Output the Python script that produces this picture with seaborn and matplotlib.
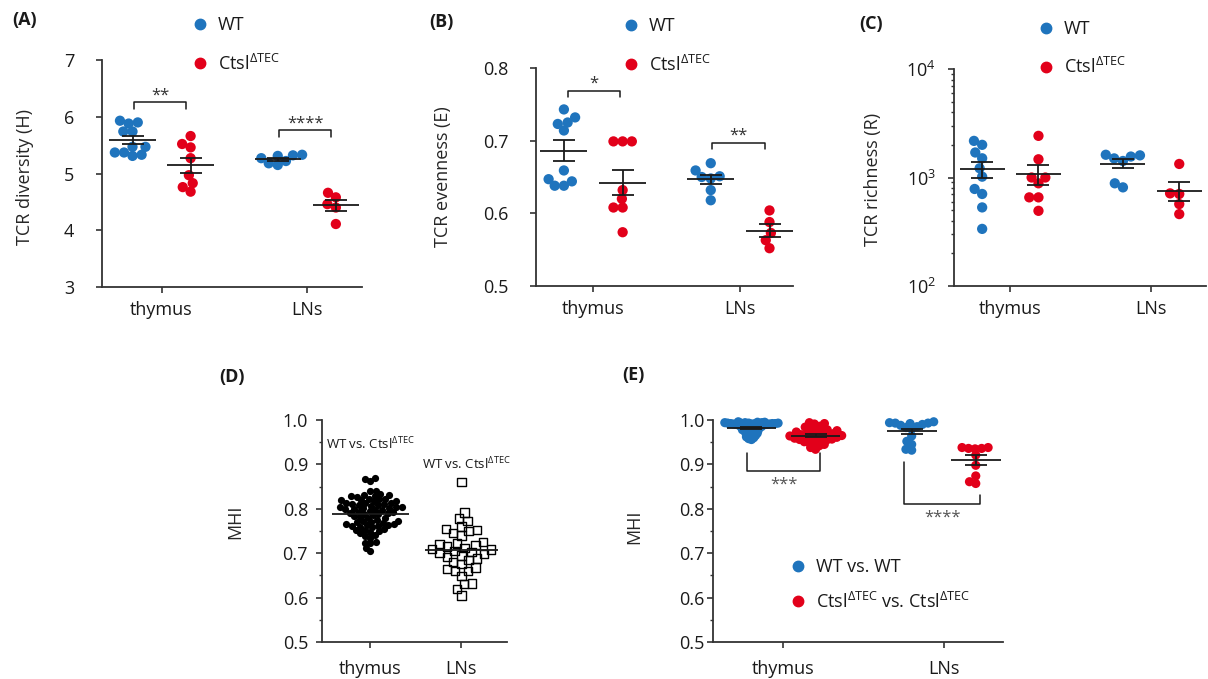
import numpy as np
import pandas as pd
import matplotlib
matplotlib.use("Agg")
import matplotlib.pyplot as plt
from matplotlib.lines import Line2D
from matplotlib.ticker import LogLocator, MultipleLocator, NullFormatter, FormatStrFormatter
import seaborn as sns

# ---------------- data ----------------
tissues = ["thymus", "LNs"]
genotypes = ["WT", "Ctsl"]

# (A) TCR diversity (H)
A_thy_wt = [5.90, 5.88, 5.93, 5.74, 5.74, 5.47, 5.47, 5.37, 5.33, 5.31, 5.37]
A_thy_ko = [5.66, 5.52, 5.46, 5.27, 4.97, 4.83, 4.76, 4.68]
A_ln_wt = [5.33, 5.31, 5.27, 5.22, 5.18, 5.15, 5.32]
A_ln_ko = [4.66, 4.58, 4.46, 4.40, 4.11]

# (B) TCR evenness (E)
B_thy_wt = [0.743, 0.732, 0.723, 0.725, 0.714, 0.659, 0.644, 0.638, 0.638, 0.647]
B_thy_ko = [0.699, 0.699, 0.699, 0.632, 0.620, 0.608, 0.608, 0.574]
B_ln_wt = [0.659, 0.669, 0.651, 0.648, 0.650, 0.632, 0.618]
B_ln_ko = [0.604, 0.588, 0.573, 0.563, 0.552]

# (C) TCR richness (R)
C_thy_wt = [2175, 2000, 1700, 1503, 1217, 1018, 784, 705, 530, 336]
C_thy_ko = [2420, 1472, 1000, 1000, 884, 656, 656, 493]
C_ln_wt = [1560, 1600, 1500, 1420, 1620, 811, 884]
C_ln_ko = [1333, 714, 705, 569, 460]

# (D) MHI WT vs Ctsl
D_thy = [0.870, 0.866, 0.862, 0.841, 0.839, 0.832, 0.830, 0.829, 0.828, 0.833,
         0.827, 0.823, 0.821, 0.820, 0.819, 0.818, 0.822, 0.817, 0.814, 0.812,
         0.811, 0.810, 0.809, 0.813, 0.808, 0.807, 0.805, 0.803, 0.802, 0.801,
         0.800, 0.799, 0.798, 0.804, 0.797, 0.795, 0.793, 0.792, 0.791, 0.790,
         0.789, 0.788, 0.785, 0.783, 0.781, 0.780, 0.779, 0.775, 0.773, 0.771,
         0.770, 0.768, 0.772, 0.766, 0.764, 0.763, 0.762, 0.761, 0.760, 0.765,
         0.759, 0.755, 0.752, 0.750, 0.748, 0.753, 0.745, 0.742, 0.738, 0.735,
         0.726, 0.724, 0.722, 0.711, 0.704]
D_ln = [0.861, 0.792, 0.778, 0.773, 0.760, 0.755, 0.750, 0.752, 0.745, 0.740,
        0.725, 0.722, 0.720, 0.718, 0.715, 0.712, 0.710, 0.708, 0.705, 0.702,
        0.700, 0.698, 0.695, 0.692, 0.688, 0.685, 0.680, 0.675, 0.668, 0.665,
        0.660, 0.660, 0.648, 0.632, 0.630, 0.620, 0.605]

# (E) MHI within genotype
E_thy_wt = [0.996, 0.995, 0.995, 0.994, 0.994, 0.994, 0.993, 0.993, 0.993, 0.993,
            0.992, 0.992, 0.992, 0.992, 0.991, 0.991, 0.991, 0.990, 0.990, 0.990,
            0.989, 0.989, 0.988, 0.988, 0.987, 0.986, 0.986, 0.985, 0.984, 0.984,
            0.983, 0.982, 0.981, 0.980, 0.979, 0.978, 0.977, 0.976, 0.975, 0.974,
            0.973, 0.972, 0.970, 0.969, 0.968, 0.966, 0.965, 0.963, 0.962, 0.960,
            0.958, 0.956]
E_thy_ko = [0.994, 0.992, 0.991, 0.986, 0.984, 0.982, 0.980, 0.978, 0.976, 0.975,
            0.973, 0.972, 0.970, 0.969, 0.968, 0.967, 0.966, 0.965, 0.964, 0.963,
            0.962, 0.961, 0.960, 0.959, 0.958, 0.957, 0.956, 0.955, 0.953, 0.951,
            0.949, 0.947, 0.945, 0.942, 0.938, 0.934]
E_ln_wt = [0.993, 0.994, 0.996, 0.993, 0.992, 0.990, 0.988, 0.985, 0.983, 0.980,
           0.964, 0.952, 0.945, 0.934, 0.932]
E_ln_ko = [0.938, 0.936, 0.935, 0.936, 0.938, 0.921, 0.898, 0.874, 0.857, 0.861]

sig_A = ["**", "****"]
sig_B = ["*", "**"]
sig_E = ["***", "****"]

KO = r"Ctsl$^{\mathrm{\Delta TEC}}$"
BLUE = "#1F74BD"
RED = "#E2001A"
INK = "#1a1a1a"
OFF = 0.2  # seaborn's dodge offset for two hue levels

# ---------------- style ----------------
sns.set_theme(style="ticks")
plt.rcParams["font.family"] = ["Open Sans", "DejaVu Sans"]
plt.rcParams["mathtext.fontset"] = "custom"
plt.rcParams["mathtext.rm"] = "Open Sans"
plt.rcParams["mathtext.it"] = "Open Sans:italic"
plt.rcParams["mathtext.bf"] = "Open Sans:bold"
plt.rcParams["text.color"] = INK

W, H = 1208, 679
fig = plt.figure(figsize=(W / 100, H / 100), dpi=100)


def px_axes(l, r, t, b):
    return fig.add_axes([l / W, 1 - b / H, (r - l) / W, (b - t) / H])


def long_df(groups):
    rows = [(t, g, v) for (t, g), vals in groups.items() for v in vals]
    return pd.DataFrame(rows, columns=["tissue", "geno", "value"])


grow = []


def swarm(ax, df, collide, target, **kw):
    n0 = len(ax.collections)
    sns.swarmplot(data=df, x="tissue", y="value", order=tissues, ax=ax,
                  size=collide, legend=False, warn_thresh=1.0, **kw)
    for c in ax.collections[n0:]:
        if len(c.get_offsets()) == 0:
            c.set_visible(False)
            continue
        c.set_clip_on(False)
        grow.append((c, target))


def mean_sem(ax, x, vals, half=0.16, cap=8, sem=True):
    v = np.asarray(vals, float)
    m = v.mean()
    ax.hlines(m, x - half, x + half, colors="k", lw=1.3, zorder=6)
    if sem:
        se = v.std(ddof=1) / np.sqrt(len(v))
        ax.errorbar([x], [m], yerr=[se], fmt="none", ecolor="k", elinewidth=1.3,
                    capsize=cap, capthick=1.3, zorder=6)


def style(ax, ypad, xpad, fs=13):
    sns.despine(ax=ax)
    for s in ["left", "bottom"]:
        ax.spines[s].set_color("#333333")
        ax.spines[s].set_linewidth(1.3)
    ax.tick_params(axis="both", which="major", length=4, width=1.2,
                   color="#333333", labelsize=fs, labelcolor=INK)
    ax.tick_params(axis="y", which="minor", length=2.5, width=1.0, color="#333333")
    ax.tick_params(axis="y", pad=ypad)
    ax.tick_params(axis="x", pad=xpad)
    ax.set_xlabel("")


def bracket_top(ax, x1, x2, ytop, yarm, text, ytext, fs=12):
    ax.plot([x1, x1, x2, x2], [yarm, ytop, ytop, yarm], color="k", lw=1.1)
    ax.text((x1 + x2) / 2, ytext, text, ha="center", va="baseline",
            fontsize=fs, color="#333333")


def legend(ax, x, ymid, labels, fs=13, ls=1.05):
    h = [Line2D([], [], marker="o", ls="", color=c, markersize=7.5)
         for c in (BLUE, RED)]
    ax.legend(h, labels, loc="center left",
              bbox_to_anchor=(x / W, 1 - ymid / H), bbox_transform=fig.transFigure,
              frameon=False, fontsize=fs, handlelength=1.0, handletextpad=0.5,
              labelspacing=ls, borderpad=0, borderaxespad=0)


def top_panel(ax, groups, ylab, ylim, yticks=None, log=False):
    df = long_df(groups)
    kw = dict(log_scale=(False, True)) if log else {}
    swarm(ax, df, 6.3, 7.4, hue="geno", hue_order=genotypes,
          palette=[BLUE, RED], dodge=True, linewidth=0, **kw)
    for i, t in enumerate(tissues):
        for j, g in enumerate(genotypes):
            mean_sem(ax, i + (2 * j - 1) * OFF, groups[(t, g)])
    ax.set_ylim(*ylim)
    if yticks is not None:
        ax.set_yticks(yticks)
    ax.set_ylabel(ylab, fontsize=13, va="center")


# ---------------- (A) ----------------
axA = px_axes(102, 362, 60, 287)
gA = {("thymus", "WT"): A_thy_wt, ("thymus", "Ctsl"): A_thy_ko,
      ("LNs", "WT"): A_ln_wt, ("LNs", "Ctsl"): A_ln_ko}
top_panel(axA, gA, "TCR diversity (H)", (3, 7), [3, 4, 5, 6, 7])
axA.set_xlim(-0.41, 1.38)
style(axA, 16, 6)
axA.yaxis.set_label_coords(-0.295, 0.485)
bracket_top(axA, -0.19, 0.17, 6.26, 6.14, sig_A[0], 6.30)
bracket_top(axA, 0.81, 1.17, 5.77, 5.65, sig_A[1], 5.81)
legend(axA, 191, 45, ["WT", KO])

# ---------------- (B) ----------------
axB = px_axes(536, 793, 68, 286)
gB = {("thymus", "WT"): B_thy_wt, ("thymus", "Ctsl"): B_thy_ko,
      ("LNs", "WT"): B_ln_wt, ("LNs", "Ctsl"): B_ln_ko}
top_panel(axB, gB, "TCR evenness (E)", (0.5, 0.8), [0.5, 0.6, 0.7, 0.8])
axB.set_xlim(-0.39, 1.36)
axB.yaxis.set_major_formatter(FormatStrFormatter("%.1f"))
style(axB, 16, 6)
axB.yaxis.set_label_coords(-0.362, 0.5)
bracket_top(axB, -0.17, 0.18, 0.769, 0.760, sig_B[0], 0.773)
bracket_top(axB, 0.81, 1.17, 0.697, 0.688, sig_B[1], 0.701)
legend(axB, 622, 46, ["WT", KO])

# ---------------- (C) ----------------
axC = px_axes(954, 1206, 69, 286)
gC = {("thymus", "WT"): C_thy_wt, ("thymus", "Ctsl"): C_thy_ko,
      ("LNs", "WT"): C_ln_wt, ("LNs", "Ctsl"): C_ln_ko}
top_panel(axC, gC, "TCR richness (R)", (100, 10000), log=True)
axC.set_yscale("log")
axC.set_ylim(100, 10000)
axC.yaxis.set_major_locator(LogLocator(base=10, numticks=5))
axC.yaxis.set_minor_locator(LogLocator(base=10, subs=np.arange(2, 10), numticks=20))
axC.yaxis.set_minor_formatter(NullFormatter())
axC.set_xlim(-0.40, 1.39)
style(axC, 9, 6)
axC.yaxis.set_label_coords(-0.32, 0.49)
legend(axC, 1037, 48.5, ["WT", KO])

# ---------------- (D) ----------------
axD = px_axes(322, 507, 420, 642)
dD1 = pd.DataFrame({"tissue": "thymus", "value": D_thy})
dD2 = pd.DataFrame({"tissue": "LNs", "value": D_ln})
swarm(axD, dD1, 3.9, 5.2, color="black", linewidth=0)
n0 = len(axD.collections)
swarm(axD, dD2, 4.8, 6.0, color="black", marker="s", linewidth=1.0,
      edgecolor="black")
for c in axD.collections[n0:]:
    c.set_facecolor("none")
    c.set_edgecolor("black")
mean_sem(axD, 0, D_thy, half=0.42, sem=False)
mean_sem(axD, 1, D_ln, half=0.40, sem=False)
axD.set_ylim(0.5, 1.0)
axD.set_xlim(-0.53, 1.5)
axD.yaxis.set_major_locator(MultipleLocator(0.1))
axD.yaxis.set_minor_locator(MultipleLocator(0.05))
axD.yaxis.set_major_formatter(FormatStrFormatter("%.1f"))
style(axD, 6, 9)
axD.set_ylabel("MHI", fontsize=13, va="center")
axD.yaxis.set_label_coords(-0.47, 0.54)
axD.text(0.0, 0.947, "WT vs. " + KO, ha="center", va="center", fontsize=9.5)
axD.text(1.05, 0.900, "WT vs. " + KO, ha="center", va="center", fontsize=9.5)

# ---------------- (E) ----------------
axE = px_axes(713, 1003, 420, 642)
gE = {("thymus", "WT"): E_thy_wt, ("thymus", "Ctsl"): E_thy_ko,
      ("LNs", "WT"): E_ln_wt, ("LNs", "Ctsl"): E_ln_ko}
dE = long_df(gE)
collideE = {("thymus", "WT"): 2.0, ("thymus", "Ctsl"): 3.6,
            ("LNs", "WT"): 4.0, ("LNs", "Ctsl"): 4.5}
for (t, g), cs in collideE.items():
    swarm(axE, dE[(dE.tissue == t) & (dE.geno == g)], cs, 6.6, hue="geno",
          hue_order=genotypes, palette=[BLUE, RED], dodge=True, linewidth=0)
for i, t in enumerate(tissues):
    for j, g in enumerate(genotypes):
        mean_sem(axE, i + (2 * j - 1) * OFF, gE[(t, g)], half=0.155, cap=8)
axE.set_ylim(0.5, 1.0)
axE.set_xlim(-0.44, 1.37)
axE.yaxis.set_major_locator(MultipleLocator(0.1))
axE.yaxis.set_minor_locator(MultipleLocator(0.05))
axE.yaxis.set_major_formatter(FormatStrFormatter("%.1f"))
style(axE, 2, 9)
axE.set_ylabel("MHI", fontsize=13, va="center")
axE.yaxis.set_label_coords(-0.272, 0.52)
# brackets below data
axE.plot([-0.23, -0.23, 0.225, 0.225], [0.926, 0.885, 0.885, 0.926], color="k", lw=1.1)
axE.text(0.0, 0.845, sig_E[0], ha="center", va="baseline", fontsize=12, color="#555555")
axE.plot([0.75, 0.75, 1.225, 1.225], [0.905, 0.811, 0.811, 0.831], color="k", lw=1.1)
axE.text(0.99, 0.772, sig_E[1], ha="center", va="baseline", fontsize=12, color="#555555")
hE = [Line2D([], [], marker="o", ls="", color=c, markersize=7.5) for c in (BLUE, RED)]
axE.legend(hE, ["WT vs. WT", KO + " vs. " + KO], loc="center left",
           bbox_to_anchor=(789 / W, 1 - 585 / H), bbox_transform=fig.transFigure,
           frameon=False, fontsize=13, handlelength=1.0, handletextpad=0.5,
           labelspacing=0.85, borderpad=0, borderaxespad=0)

# panel letters
for lab, x, y in [("(A)", 25, 20), ("(B)", 441, 22), ("(C)", 871, 24),
                  ("(D)", 232, 377), ("(E)", 633, 375)]:
    fig.text(x / W, 1 - y / H, lab, ha="center", va="center",
             fontsize=13, fontweight="bold")

# compute swarm positions with the collision size, then show the real marker size
fig.canvas.draw()
for c, target in grow:
    if "draw" in c.__dict__:
        del c.draw
    c.set_sizes([target ** 2])

fig.savefig("out.png", dpi=100)
